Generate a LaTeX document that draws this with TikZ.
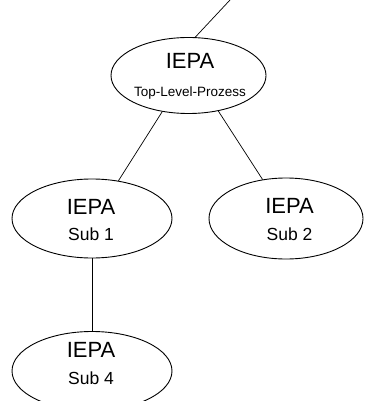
\documentclass[tikz,border=0pt]{standalone}
\usepackage{fontspec}
\setmainfont{Liberation Sans}
\usetikzlibrary{shapes.geometric}

\tikzset{
  proc/.style={ellipse, draw=black, line width=0.9pt, inner sep=0pt,
               minimum width=#1},
  proc/.default=160,
  title/.style={anchor=base, inner sep=0pt, font=\fontsize{22}{25}\selectfont},
  subtitle/.style={anchor=base, inner sep=0pt, font=\fontsize{17.5}{20}\selectfont},
  toptitle/.style={anchor=base, inner sep=0pt, font=\fontsize{13.5}{16}\selectfont},
  link/.style={line width=0.7pt, draw=black},
}

\begin{document}
\begin{tikzpicture}[x=1pt, y=-1pt]
  \clip (0,0) rectangle (365,401);
  \fill[white] (0,0) rectangle (365,401);

  % process ellipses
  \node[proc=155, minimum height=76] (top)  at (188.5,75.5) {};
  \node[proc=160, minimum height=79] (sub1) at (92,218.5) {};
  \node[proc=154, minimum height=81] (sub2) at (286,218.5) {};
  \node[proc=160, minimum height=79] (sub4) at (92,371) {};

  % labels
  \node[title]    (topA)  at (190,68.9)  {IEPA};
  \node[toptitle] (topB)  at (190,96.5)  {Top-Level-Prozess};
  \node[title]    (sub1A) at (91,214.4)  {IEPA};
  \node[subtitle] (sub1B) at (91,240.1)  {Sub 1};
  \node[title]    (sub2A) at (289.5,213.9) {IEPA};
  \node[subtitle] (sub2B) at (289.5,240.1) {Sub 2};
  \node[title]    (sub4A) at (91,357.7)  {IEPA};
  \node[subtitle] (sub4B) at (91,384)    {Sub 4};

  % connectors
  \coordinate (parent) at (230,0);
  \draw[link] (parent) -- (top.80);
  \draw[link] (top.234) -- (sub1.55);
  \draw[link] (top.-50) -- (sub2.121);
  \draw[link] (sub1.south) -- (sub4.north);
\end{tikzpicture}
\end{document}
